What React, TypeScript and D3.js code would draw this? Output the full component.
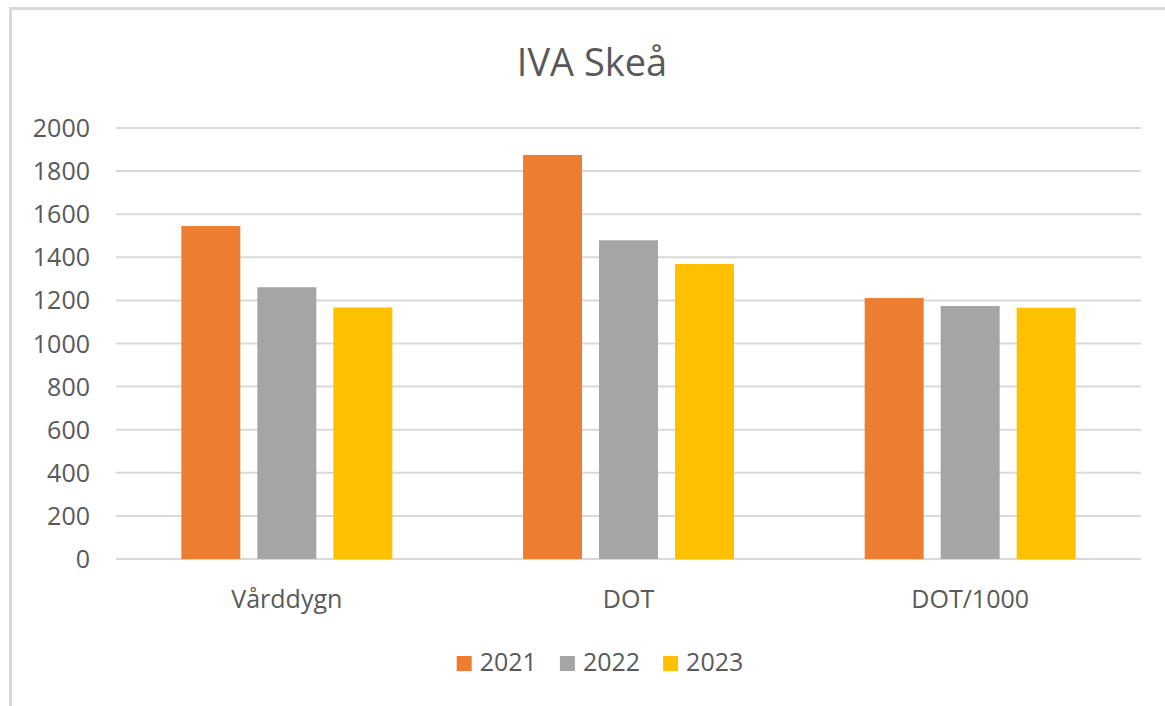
import React, { useEffect, useRef } from 'react'
import * as d3 from 'd3'

const categories = ['Vårddygn', 'DOT', 'DOT/1000']
const seriesNames = ['2021', '2022', '2023']
const values2021 = [1545, 1875, 1211]
const values2022 = [1261, 1479, 1174]
const values2023 = [1167, 1369, 1166]
const yTicks = [0, 200, 400, 600, 800, 1000, 1200, 1400, 1600, 1800, 2000]
const colors = ['#ED7D31', '#A5A5A5', '#FFC000']

const App = () => {
  const ref = useRef<SVGSVGElement>(null)

  useEffect(() => {
    const svg = d3.select(ref.current)
    svg.selectAll('*').remove()

    const width = 1165
    const height = 706
    const font = '"Open Sans", sans-serif'
    const textColor = '#595959'

    svg.attr('width', width).attr('height', height)

    // chart area border (cropped at the right and bottom)
    svg.append('rect')
      .attr('x', 10.5).attr('y', 8.5)
      .attr('width', 1164).attr('height', 720)
      .attr('fill', '#fff')
      .attr('stroke', '#d9d9d9')
      .attr('stroke-width', 3)

    svg.append('text')
      .attr('x', 592).attr('y', 76)
      .attr('text-anchor', 'middle')
      .attr('font-family', font)
      .attr('font-size', 38)
      .attr('fill', textColor)
      .text('IVA Skeå')

    const table = categories.map((c, i) => ({
      category: c,
      values: [values2021[i], values2022[i], values2023[i]],
    }))

    const x0 = d3.scaleBand().domain(categories).range([116, 1141]).paddingInner(0.3825).paddingOuter(0.19125)
    const x1 = d3.scaleBand().domain(seriesNames).range([0, x0.bandwidth()]).paddingInner(0.224)
    const y = d3.scaleLinear().domain([0, 2000]).range([559, 128])

    const grid = svg.append('g')
    grid.selectAll('line')
      .data(yTicks)
      .enter()
      .append('line')
      .attr('x1', 116).attr('x2', 1141)
      .attr('y1', (d) => y(d)).attr('y2', (d) => y(d))
      .attr('stroke', '#d9d9d9')
      .attr('stroke-width', 2)

    svg.append('g')
      .selectAll('text')
      .data(yTicks)
      .enter()
      .append('text')
      .attr('x', 90)
      .attr('y', (d) => y(d))
      .attr('dy', '0.36em')
      .attr('text-anchor', 'end')
      .attr('font-family', font)
      .attr('font-size', 25)
      .attr('fill', textColor)
      .text((d) => String(d))

    const groups = svg.append('g')
      .selectAll('g')
      .data(table)
      .enter()
      .append('g')
      .attr('transform', (d) => `translate(${x0(d.category)},0)`)

    groups.selectAll('rect')
      .data((d) => d.values.map((v, i) => ({ key: seriesNames[i], value: v, idx: i })))
      .enter()
      .append('rect')
      .attr('x', (d) => x1(d.key) as number)
      .attr('width', x1.bandwidth())
      .attr('y', (d) => y(d.value))
      .attr('height', (d) => y(0) - y(d.value))
      .attr('fill', (d) => colors[d.idx])

    svg.append('g')
      .selectAll('text')
      .data(categories)
      .enter()
      .append('text')
      .attr('x', (d) => (x0(d) as number) + x0.bandwidth() / 2)
      .attr('y', 608)
      .attr('text-anchor', 'middle')
      .attr('font-family', font)
      .attr('font-size', 25)
      .attr('fill', textColor)
      .text((d) => d)

    // legend
    const legend = svg.append('g')
    let lx = 0
    seriesNames.forEach((name, i) => {
      const item = legend.append('g').attr('transform', `translate(${lx},0)`)
      item.append('rect')
        .attr('x', 0).attr('y', 656)
        .attr('width', 15).attr('height', 15)
        .attr('fill', colors[i])
      const t = item.append('text')
        .attr('x', 23).attr('y', 671)
        .attr('font-family', font)
        .attr('font-size', 25)
        .attr('fill', textColor)
        .text(name)
      const tw = (t.node() as SVGTextElement).getComputedTextLength()
      lx += 23 + tw + 23
    })
    const legendWidth = lx - 23
    legend.attr('transform', `translate(${600 - legendWidth / 2},0)`)
  }, [])

  return (
    <div style={{ position: 'absolute', left: 0, top: 0 }}>
      <svg ref={ref} style={{ display: 'block' }}></svg>
    </div>
  )
}

export default App
